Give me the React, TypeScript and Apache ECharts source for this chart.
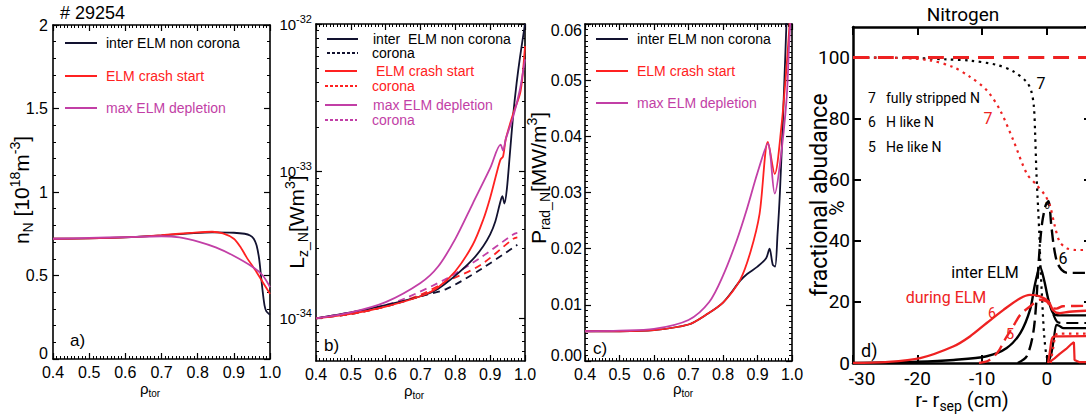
import { useEffect, useRef } from 'react';
import * as echarts from 'echarts';

const SANS = '"Liberation Sans", Arial, Helvetica, sans-serif';
const NARROW = 'Roboto, "Liberation Sans", sans-serif';

const C_BLACK = '#121230';
const C_RED = '#ff2121';
const C_MAG = '#c23fa6';
const D_BLACK = '#000000';
const D_RED = '#ee2222';

// ---------- Panel a: n_N [10^18 m^-3] vs rho_tor ----------
const nInter = [[0.4, 0.72], [0.5, 0.722], [0.6, 0.728], [0.7, 0.74], [0.78, 0.752], [0.84, 0.758], [0.9, 0.756], [0.93, 0.75], [0.945, 0.74], [0.955, 0.72], [0.963, 0.68], [0.97, 0.6], [0.975, 0.5], [0.98, 0.4], [0.985, 0.32], [0.99, 0.285], [1.0, 0.265]];
const nCrash = [[0.4, 0.72], [0.5, 0.722], [0.6, 0.728], [0.7, 0.742], [0.78, 0.755], [0.84, 0.762], [0.87, 0.752], [0.9, 0.72], [0.92, 0.665], [0.935, 0.61], [0.963, 0.52], [0.98, 0.46], [1.0, 0.39]];
const nDepl = [[0.4, 0.72], [0.5, 0.725], [0.6, 0.73], [0.7, 0.735], [0.75, 0.728], [0.806, 0.7], [0.85, 0.668], [0.898, 0.62], [0.953, 0.55], [0.98, 0.5], [1.0, 0.43]];

// ---------- Panel b: log10 of L_z_N [W m^3] vs rho_tor ----------
const lzInter = [[0.4, -34.0], [0.5, -33.96], [0.6, -33.91], [0.7, -33.85], [0.75, -33.8], [0.8, -33.71], [0.85, -33.6], [0.88, -33.51], [0.9, -33.43], [0.915, -33.34], [0.928, -33.22], [0.935, -33.17], [0.941, -33.22], [0.948, -33.12], [0.956, -32.9], [0.966, -32.62], [0.976, -32.4], [0.986, -32.22], [1.0, -32.0]];
const lzCrash = [[0.4, -34.0], [0.5, -33.97], [0.6, -33.92], [0.7, -33.85], [0.75, -33.79], [0.8, -33.68], [0.85, -33.5], [0.88, -33.33], [0.9, -33.18], [0.92, -33.0], [0.93, -32.92], [0.937, -32.9], [0.945, -32.78], [0.966, -32.61], [0.986, -32.47], [0.993, -32.35], [1.0, -32.15]];
const lzDepl = [[0.4, -34.0], [0.5, -33.96], [0.6, -33.89], [0.7, -33.76], [0.75, -33.65], [0.8, -33.46], [0.85, -33.22], [0.9, -32.98], [0.93, -32.82], [0.937, -32.86], [0.945, -32.78], [0.966, -32.63], [0.985, -32.45], [1.0, -32.24]];
const lzInterCorona = [[0.4, -34.0], [0.5, -33.97], [0.6, -33.92], [0.7, -33.85], [0.775, -33.8], [0.871, -33.67], [0.966, -33.52], [0.978, -33.5]];
const lzCrashCorona = [[0.4, -34.0], [0.5, -33.97], [0.6, -33.92], [0.7, -33.84], [0.775, -33.75], [0.871, -33.64], [0.966, -33.46], [0.978, -33.45]];
const lzDeplCorona = [[0.4, -34.0], [0.5, -33.96], [0.6, -33.91], [0.66, -33.86], [0.775, -33.73], [0.871, -33.59], [0.966, -33.43], [0.978, -33.42]];
const lzDecades = [-34, -33, -32];

// ---------- Panel c: P_rad_N [MW/m^3] vs rho_tor ----------
const pInter = [[0.4, 0.0053], [0.5, 0.0053], [0.6, 0.0055], [0.7, 0.0065], [0.75, 0.0082], [0.8, 0.0104], [0.85, 0.0143], [0.87, 0.0155], [0.9, 0.0168], [0.925, 0.0183], [0.935, 0.02], [0.944, 0.0172], [0.951, 0.0168], [0.958, 0.0225], [0.965, 0.03], [0.975, 0.045], [0.985, 0.062], [0.99, 0.07]];
const pCrash = [[0.4, 0.0053], [0.5, 0.0053], [0.6, 0.0055], [0.7, 0.0065], [0.75, 0.0082], [0.8, 0.0104], [0.85, 0.0145], [0.88, 0.0195], [0.906, 0.0262], [0.93, 0.039], [0.95, 0.0333], [0.969, 0.0416], [0.985, 0.053], [0.993, 0.06], [1.0, 0.066]];
const pDepl = [[0.4, 0.0053], [0.5, 0.0054], [0.6, 0.0057], [0.7, 0.0073], [0.76, 0.0105], [0.8, 0.0152], [0.84, 0.0215], [0.87, 0.0272], [0.9, 0.0335], [0.93, 0.0387], [0.95, 0.0298], [0.964, 0.0345], [0.984, 0.0464], [0.993, 0.058], [1.0, 0.064]];

// ---------- Panel d: fractional abundance [%] vs r - r_sep [cm] ----------
const dTotal = [[-30, 100], [7, 100]];
const d7Inter = [[-30, 100], [-20, 99.8], [-15.5, 99.4], [-11.9, 99], [-7.75, 97.6], [-5.2, 95.5], [-3.1, 92], [-2.4, 89], [-2.0, 84], [-1.8, 75], [-1.6, 62], [-1.35, 51], [-1.15, 42], [-1.0, 33], [-0.7, 20], [-0.4, 9], [0, 2], [0.5, 0.3]];
const d6Inter = [[-4.5, 0], [-3.1, 2.2], [-2.1, 9.8], [-1.6, 20.7], [-1.3, 31.6], [-0.8, 44.6], [-0.2, 51.5], [0.25, 53], [0.7, 45], [1.1, 38], [1.6, 33], [2.3, 30.5], [3.2, 29.5], [7, 29.5]];
const d5Inter = [[-30, 0], [-20, 0.4], [-14.4, 1], [-9.3, 2.2], [-6.2, 4.9], [-4.1, 9.8], [-2.6, 17.4], [-1.8, 26], [-1.05, 31.5], [-0.4, 27], [0.25, 20.7], [1.0, 16.3], [2, 15.6], [7, 15.6]];
const d4Inter = [[0.2, 0], [0.7, 3], [1.1, 8], [1.5, 12.5], [1.9, 12.2], [2.6, 11.4], [7, 11.4]];
const d4InterDash = [[1.0, 16], [1.6, 13.5], [2.4, 13.1], [7, 13.1]];
const d7Elm = [[-30, 100], [-22, 99.8], [-18.1, 99.1], [-14.5, 96.9], [-11.9, 93.7], [-9.3, 89.3], [-7.24, 82.8], [-5.2, 73], [-3.1, 62], [-1.6, 58.3], [-0.3, 55], [0.5, 51.5], [1.27, 44.6], [2.0, 39.7], [3.1, 37.6], [4.5, 37], [7, 37]];
const d6Elm = [[-30, 0], [-25, 0.3], [-19.6, 1.6], [-14.5, 5.4], [-11.9, 8.7], [-9.3, 13.1], [-6.7, 17.4], [-4.1, 21.2], [-2.6, 22.3], [-1.05, 21.8], [0.3, 20], [1.0, 17.2], [2.0, 16.3], [3.5, 16.8], [7, 17.2]];
const d5Elm = [[-10.5, 0], [-9, 0.8], [-7.6, 3.5], [-6.5, 7.6], [-5.2, 12], [-4.1, 15.8], [-2.6, 18.5], [-1.05, 20.7], [0, 20.1], [0.8, 18], [1.5, 17.8], [2.5, 18.6], [7, 18.7]];
const d4Elm = [[0.2, 0], [0.5, 4], [0.8, 8], [1.3, 8.7], [7, 8.8]];
const d4ElmDot = [[0.6, 0], [1.0, 5], [1.4, 9.2], [2, 9.6], [7, 9.6]];
const d3Elm = [[0.4, 0.3], [1.2, 1.5], [2.0, 3], [3.0, 4.6], [3.8, 6.2], [4.2, 6.8], [4.3, 1], [5, 0.3], [7, 0.3]];

// ---------- axes helpers ----------
type Box = { lw: number; tl: number; tw: number; minor?: number; ml?: number; tickCustom?: number[]; noLine?: boolean };
const mkAxis = (gridIndex: number, position: string, min: number, max: number, interval: number | undefined, box: Box, label: any) => ({
  type: 'value', gridIndex, position, min, max, interval,
  axisLine: { show: !box.noLine, onZero: false, lineStyle: { color: '#000', width: box.lw } },
  axisTick: { show: true, inside: true, length: box.tl, lineStyle: { color: '#000', width: box.tw }, ...(box.tickCustom ? { customValues: box.tickCustom } : {}) },
  minorTick: box.minor ? { show: true, splitNumber: box.minor, length: box.ml, lineStyle: { color: '#000', width: 1 } } : { show: false },
  splitLine: { show: false },
  axisLabel: label ? { show: true, color: '#000', ...label } : { show: false },
});

const rhoBox: Box = { lw: 1.6, tl: 6, tw: 1.2, minor: 10, ml: 3 };
const rhoLabel = { formatter: (v: number) => v.toFixed(1), fontSize: 16, fontFamily: SANS, margin: 5 };

const lzMinorTicks: number[] = [];
for (const dec of [-35, -34, -33]) {
  for (let k = 2; k <= 9; k++) {
    const v = dec + Math.log10(k);
    if (v > -34.29 && v < -32) lzMinorTicks.push(v);
  }
}

const supRich = {
  b: { fontSize: 15, fontFamily: SANS, color: '#000', lineHeight: 22 },
  s: { fontSize: 11, fontFamily: SANS, color: '#000', lineHeight: 10, verticalAlign: 'top' },
};
const shiftRich = (size: number, family: string) => ({
  up: { fontSize: size, fontFamily: family, color: '#000', padding: [0, 0, 12, 0] },
  down: { fontSize: size, fontFamily: family, color: '#000', padding: [12, 0, 0, 0] },
  right: { fontSize: size, fontFamily: family, color: '#000', padding: [0, 0, 0, 18] },
});

const dBox: Box = { lw: 2.5, tl: 8, tw: 2 };
const dXLabel = {
  fontSize: 19, fontFamily: NARROW, margin: 6, showMaxLabel: false,
  formatter: (v: number) => (v === -30 ? '{right|-30}' : String(v)), rich: shiftRich(19, NARROW),
};

const xAxis = [
  mkAxis(0, 'bottom', 0.4, 1.0, 0.1, rhoBox, rhoLabel),
  mkAxis(0, 'top', 0.4, 1.0, 0.1, rhoBox, null),
  mkAxis(1, 'bottom', 0.4, 1.0, 0.1, rhoBox, rhoLabel),
  mkAxis(1, 'top', 0.4, 1.0, 0.1, rhoBox, null),
  mkAxis(2, 'bottom', 0.4, 1.0, 0.1, rhoBox, rhoLabel),
  mkAxis(2, 'top', 0.4, 1.0, 0.1, rhoBox, null),
  mkAxis(3, 'bottom', -30, 7, 10, dBox, dXLabel),
  mkAxis(3, 'top', -30, 7, 10, dBox, null),
];

const yAxis = [
  mkAxis(0, 'left', 0, 2, 0.5, { lw: 1.6, tl: 6, tw: 1.2, minor: 5, ml: 3 }, {
    fontSize: 16, fontFamily: SANS, margin: 5,
    formatter: (v: number) => (v === 0 ? '{up|0}' : String(v)), rich: shiftRich(16, SANS),
  }),
  mkAxis(0, 'right', 0, 2, 0.5, { lw: 1.6, tl: 6, tw: 1.2, minor: 5, ml: 3 }, null),
  mkAxis(1, 'left', -34.29, -32, undefined, { lw: 1.6, tl: 6, tw: 1.2, tickCustom: lzDecades }, {
    customValues: lzDecades, margin: 4,
    formatter: (v: number) => '{b|10}{s|' + Math.round(v) + '}', rich: supRich,
  }),
  mkAxis(1, 'right', -34.29, -32, undefined, { lw: 1.6, tl: 6, tw: 1.2, tickCustom: lzDecades }, null),
  mkAxis(1, 'left', -34.29, -32, undefined, { lw: 1, tl: 3, tw: 1, tickCustom: lzMinorTicks, noLine: true }, null),
  mkAxis(1, 'right', -34.29, -32, undefined, { lw: 1, tl: 3, tw: 1, tickCustom: lzMinorTicks, noLine: true }, null),
  mkAxis(2, 'left', 0, 0.06, 0.01, { lw: 1.6, tl: 6, tw: 1.2, minor: 10, ml: 3 }, {
    fontSize: 16, fontFamily: SANS, margin: 3,
    formatter: (v: number) => (v === 0 ? '{up|0.00}' : v > 0.0595 ? '{down|0.06}' : v.toFixed(2)),
    rich: shiftRich(16, SANS),
  }),
  mkAxis(2, 'right', 0, 0.06, 0.01, { lw: 1.6, tl: 6, tw: 1.2, minor: 10, ml: 3 }, null),
  mkAxis(3, 'left', 0, 110, 20, dBox, { fontSize: 19, fontFamily: NARROW, margin: 3, showMaxLabel: false }),
  mkAxis(3, 'right', 0, 110, 20, dBox, null),
];

const ln = (data: number[][], xi: number, yi: number, color: string, width: number, type: any = 'solid', z = 2, smooth: number | boolean = 0.3) => ({
  type: 'line', data, xAxisIndex: xi, yAxisIndex: yi, symbol: 'none', showSymbol: false,
  smooth, silent: true, z,
  lineStyle: { color, width, type, cap: 'butt' },
});

const DOT = [2.5, 4.5];
const DASH = [12, 6];

const series = [
  ln(nInter, 0, 0, C_BLACK, 1.8),
  ln(nCrash, 0, 0, C_RED, 1.8),
  ln(nDepl, 0, 0, C_MAG, 1.8),

  ln(lzInterCorona, 2, 2, C_BLACK, 1.8, [7, 5]),
  ln(lzCrashCorona, 2, 2, C_RED, 1.8, [7, 5]),
  ln(lzDeplCorona, 2, 2, C_MAG, 1.8, [7, 5]),
  ln(lzInter, 2, 2, C_BLACK, 1.8),
  ln(lzCrash, 2, 2, C_RED, 1.8),
  ln(lzDepl, 2, 2, C_MAG, 1.8),

  ln(pInter, 4, 6, C_BLACK, 1.8),
  ln(pCrash, 4, 6, C_RED, 1.8),
  ln(pDepl, 4, 6, C_MAG, 1.8),

  ln(d7Inter, 6, 8, D_BLACK, 2.2, DOT),
  ln(d6Inter, 6, 8, D_BLACK, 2.4, DASH),
  ln(d5Inter, 6, 8, D_BLACK, 2.4),
  ln(d4Inter, 6, 8, D_BLACK, 2.2),
  ln(d4InterDash, 6, 8, D_BLACK, 2.2, DASH),
  ln(dTotal, 6, 8, D_RED, 3, [16, 9], 3),
  ln(d7Elm, 6, 8, D_RED, 2.2, DOT, 3),
  ln(d6Elm, 6, 8, D_RED, 2.4, 'solid', 3),
  ln(d5Elm, 6, 8, D_RED, 2.4, DASH, 3),
  ln(d4Elm, 6, 8, D_RED, 2.2, 'solid', 3),
  ln(d4ElmDot, 6, 8, D_RED, 2.2, DOT, 3),
  ln(d3Elm, 6, 8, D_RED, 2.2, 'solid', 3, false),
];

// ---------- graphic texts & legend glyphs ----------
const T = (x: number, y: number, text: string, size: number, color = '#000', family = SANS, align = 'left', rot = 0, rich?: any) => ({
  type: 'text', x, y, rotation: rot, silent: true, z: 100,
  style: {
    text, fill: color, fontSize: size, fontFamily: family,
    textAlign: align, textVerticalAlign: 'middle', align, verticalAlign: 'middle',
    ...(rich ? { rich } : {}),
  },
});
const L = (x1: number, x2: number, y: number, color: string, dash?: number[]) => ({
  type: 'line', silent: true, z: 100,
  shape: { x1, y1: y, x2, y2: y },
  style: { stroke: color, lineWidth: 2, ...(dash ? { lineDash: dash } : {}) },
});

const nameRich = (size: number, small: number, family = SANS) => ({
  m: { fontSize: size, fontFamily: family, fill: '#000', lineHeight: size + 6 },
  sub: { fontSize: small, fontFamily: family, fill: '#000', lineHeight: small, verticalAlign: 'bottom' },
  sup: { fontSize: small, fontFamily: family, fill: '#000', lineHeight: small, verticalAlign: 'top' },
});
const ROT = Math.PI / 2;

const graphic = [
  T(60, 13, '# 29254', 18),
  // panel a
  L(65, 97, 43, C_BLACK), T(106, 43, 'inter ELM non corona', 14),
  L(65, 97, 76, C_RED), T(106, 76, 'ELM crash start', 14, C_RED),
  L(65, 97, 108, C_MAG), T(106, 108, 'max ELM depletion', 14, C_MAG),
  T(70, 340, 'a)', 17),
  T(21, 190, '{m|n}{sub|N}{m| [10}{sup|18}{m|m}{sup|-3}{m|]}', 21, '#000', SANS, 'center', ROT, nameRich(21, 14)),
  T(150, 388, '{m|ρ}{sub|tor}', 15, '#000', SANS, 'center', 0, nameRich(15, 10)),
  // panel b
  L(327, 358, 39, C_BLACK), T(373, 39, 'inter  ELM non corona', 14),
  L(327, 358, 53, C_BLACK, [3, 2]), T(372, 53, 'corona', 14),
  L(325, 357, 71, C_RED), T(376, 71, 'ELM crash start', 14, C_RED),
  L(325, 357, 86, C_RED, [3, 2]), T(372, 86, 'corona', 14, C_RED),
  L(325, 357, 105, C_MAG), T(373, 105, 'max ELM depletion', 14, C_MAG),
  L(325, 357, 120, C_MAG, [3, 2]), T(372, 120, 'corona', 14, C_MAG),
  T(324, 345, 'b)', 17),
  T(296, 222, '{m|L}{sub|z_N}{m|[Wm}{sup|3}{m|]}', 21, '#000', SANS, 'center', ROT, nameRich(21, 14)),
  T(414, 390, '{m|ρ}{sub|tor}', 15, '#000', SANS, 'center', 0, nameRich(15, 10)),
  // panel c
  L(596, 628, 39, C_BLACK), T(637, 39, 'inter ELM non corona', 14),
  L(596, 628, 71, C_RED), T(637, 71, 'ELM crash start', 14, C_RED),
  L(596, 628, 103, C_MAG), T(637, 103, 'max ELM depletion', 14, C_MAG),
  T(593, 348, 'c)', 17),
  T(538, 178, '{m|P}{sub|rad_N}{m|[MW/m}{sup|3}{m|]}', 21, '#000', SANS, 'center', ROT, nameRich(21, 14)),
  T(683, 388, '{m|ρ}{sub|tor}', 15, '#000', SANS, 'center', 0, nameRich(15, 10)),
  // panel d
  T(963, 14, 'Nitrogen', 19, '#000', NARROW, 'center'),
  T(819, 195, 'fractional abudance', 23, '#000', NARROW, 'center', ROT),
  T(837, 208, '%', 21, '#000', NARROW, 'center', ROT),
  T(962, 400, '{m|r- r}{sub|sep}{m| (cm)}', 20, '#000', NARROW, 'center', 0, nameRich(20, 14, NARROW)),
  T(868, 98, '7', 14, '#000', NARROW), T(886, 98, 'fully stripped N', 14, '#000', NARROW),
  T(868, 122, '6', 14, '#000', NARROW), T(886, 122, 'H like N', 14, '#000', NARROW),
  T(868, 147, '5', 14, '#000', NARROW), T(886, 147, 'He like N', 14, '#000', NARROW),
  T(1041, 83, '7', 16, '#000', NARROW, 'center'),
  T(988, 118, '7', 16, D_RED, NARROW, 'center'),
  T(1063, 258, '6', 16, '#000', NARROW, 'center'),
  T(1047, 206, '5', 9, '#000', NARROW, 'center'),
  T(985, 272, 'inter ELM', 16, '#000', NARROW, 'center'),
  T(946, 297, 'during ELM', 16, D_RED, NARROW, 'center'),
  T(992, 313, '6', 14, D_RED, NARROW, 'center'),
  T(1010, 334, '5', 15, D_RED, NARROW, 'center'),
  T(861, 350, 'd)', 18, '#000', NARROW),
];

const grid = [
  { left: 53, top: 25, width: 217, height: 334 },
  { left: 316, top: 24, width: 209, height: 337 },
  { left: 585, top: 24, width: 207, height: 337 },
  { left: 853, top: 27, width: 239, height: 336 },
].map((g) => ({ ...g, containLabel: false, outerBoundsMode: 'none', show: false }));

const option: any = {
  animation: false,
  backgroundColor: '#ffffff',
  grid,
  xAxis,
  yAxis,
  series,
  graphic,
};

export default function App() {
  const ref = useRef<HTMLDivElement>(null);
  useEffect(() => {
    const chart = echarts.init(ref.current!, null, { renderer: 'svg' });
    chart.setOption(option);
    return () => chart.dispose();
  }, []);
  return <div ref={ref} style={{ position: 'fixed', left: 0, top: 0, width: 1086, height: 416, background: '#fff' }} />;
}
